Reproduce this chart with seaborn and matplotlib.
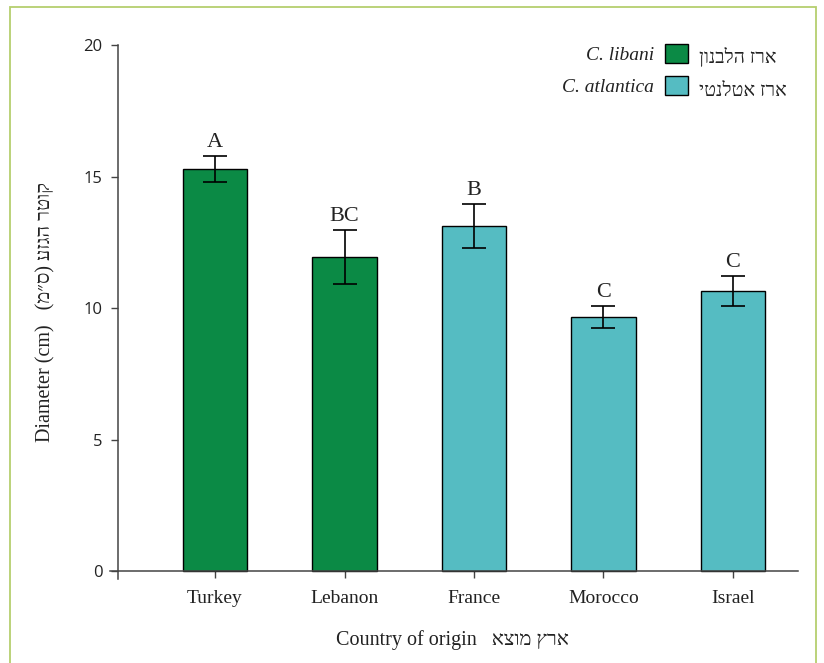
import matplotlib
matplotlib.use("Agg")
import matplotlib.pyplot as plt
import seaborn as sns
import pandas as pd
import numpy as np
from matplotlib.patches import Patch, Rectangle

# ---- data ----
countries = ["Turkey", "Lebanon", "France", "Morocco", "Israel"]
species = ["C. libani", "C. libani", "C. atlantica", "C. atlantica", "C. atlantica"]
means = [15.28, 11.94, 13.12, 9.66, 10.65]
errors = [0.50, 1.01, 0.82, 0.42, 0.57]
letters = ["A", "BC", "B", "C", "C"]
species_names = ["C. libani", "C. atlantica"]
species_hebrew = ["ארז הלבנון", "ארז אטלנטי"]
yticks = [0, 5, 10, 15, 20]

def vis(s):
    # visual (left-to-right) order for right-to-left Hebrew text
    r = s[::-1]
    return r.translate(str.maketrans("()", ")("))

sns.set_style("ticks")
SERIF = ["Liberation Serif", "DejaVu Sans"]
plt.rcParams["font.family"] = SERIF

green = "#0b8a45"
teal = "#55bcc2"
palette = {"C. libani": green, "C. atlantica": teal}

df = pd.DataFrame({"country": countries, "species": species, "mean": means})

fig = plt.figure(figsize=(8.24, 6.63), dpi=100)
ax = fig.add_axes([107.6 / 824, (663 - 578.9) / 663, 690 / 824, 533.9 / 663])

sns.barplot(data=df, x="country", y="mean", hue="species", dodge=False,
            palette=palette, order=countries, hue_order=species_names,
            width=0.5, errorbar=None, edgecolor="black", linewidth=1.0,
            saturation=1, legend=False, ax=ax)

ax.errorbar(np.arange(len(countries)), means, yerr=errors, fmt="none",
            ecolor="black", elinewidth=1.2, capsize=8.5, capthick=1.2, zorder=5)

for i, (m, e, l) in enumerate(zip(means, errors, letters)):
    ax.text(i, m + e + 0.35, l, ha="center", va="baseline", fontsize=16,
            family=SERIF, color="#222222")

ax.set_xlim(-0.83, 4.5)
ax.set_ylim(-0.3, 20)
ax.set_yticks(yticks)
ax.set_yticklabels([str(t) for t in yticks])
ax.set_xticks(range(len(countries)))
ax.set_xticklabels(countries)
ax.tick_params(axis="y", labelsize=12, labelfontfamily="Open Sans",
               labelcolor="#222222", pad=6)
ax.tick_params(axis="x", labelsize=14, labelfontfamily="Liberation Serif",
               labelcolor="#222222", pad=9)

for s in ["top", "right"]:
    ax.spines[s].set_visible(False)
ax.spines["bottom"].set_position(("data", 0))
ax.spines["left"].set_position(("data", -0.75))
ax.spines["bottom"].set_bounds(-0.81, 4.5)
for s in ["left", "bottom"]:
    ax.spines[s].set_color("#444444")
    ax.spines[s].set_linewidth(1.1)
ax.tick_params(axis="both", length=5, width=1.0, color="#444444")

ax.set_xlabel("Country of origin   " + vis("ארץ מוצא"), fontsize=14.5,
              family=SERIF, color="#222222", labelpad=16)
ax.set_ylabel("Diameter (cm)   " + vis("קוטר הגזע (ס״מ)"), fontsize=14.5,
              family=SERIF, color="#222222", labelpad=20)

handles = [Patch(facecolor=palette[s], edgecolor="black", linewidth=1.0) for s in species_names]
leg = fig.legend(handles, species_names, loc="upper right",
                 bbox_to_anchor=(688 / 824, 1 - 44 / 663),
                 markerfirst=False, frameon=False,
                 prop={"family": SERIF, "style": "italic", "size": 14},
                 handlelength=1.2, handleheight=1.15, handletextpad=0.55,
                 labelspacing=0.6, borderpad=0, borderaxespad=0)
for t in leg.get_texts():
    t.set_color("#222222")

for k, h in enumerate(species_hebrew):
    fig.text(699 / 824, 1 - (57 + 34 * k) / 663, vis(h), ha="left", va="center",
             fontsize=14, family=SERIF, color="#222222")

fig.add_artist(Rectangle((10 / 824, -0.05), (816 - 10) / 824, 1.05 - 7 / 663,
                         transform=fig.transFigure, fill=False,
                         edgecolor="#b5cf6e", linewidth=1.3))

fig.savefig("out.png", dpi=100)
